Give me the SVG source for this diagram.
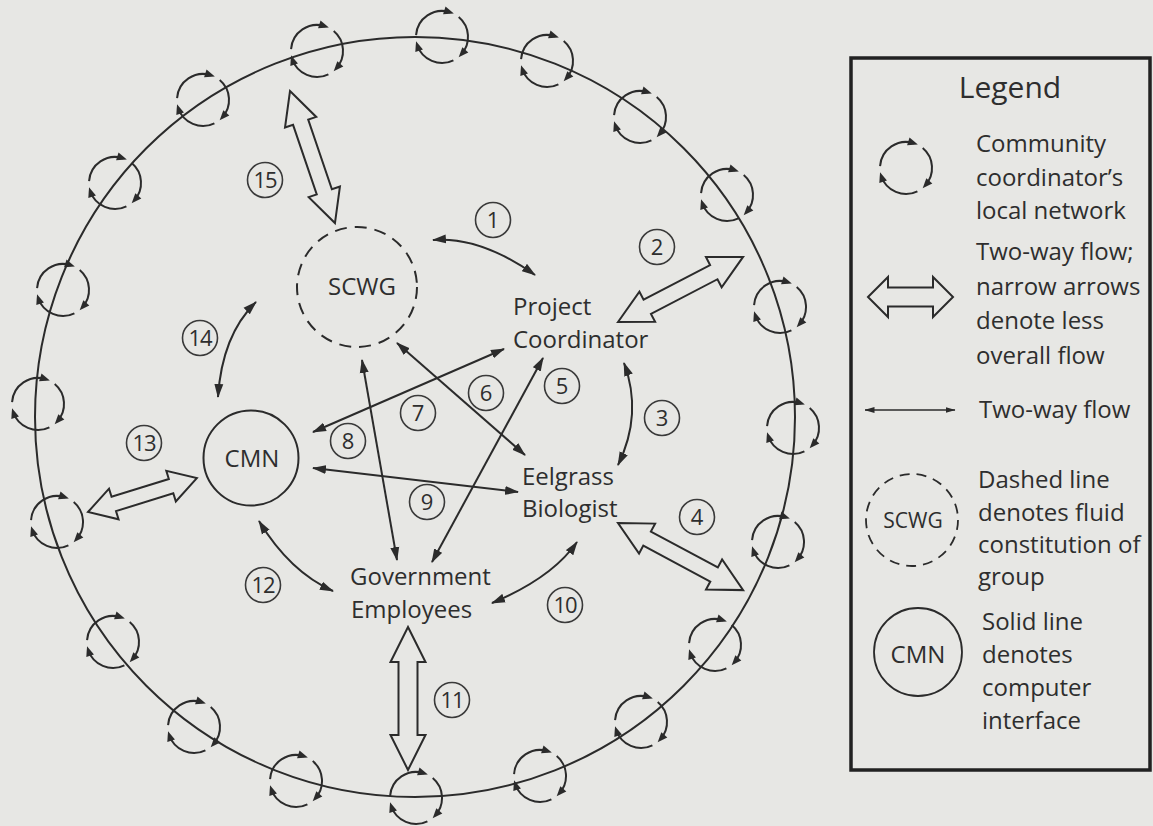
<svg xmlns="http://www.w3.org/2000/svg" width="1153" height="826" viewBox="0 0 1153 826">
<style>
  .ln{fill:none;stroke:#2b2b2b;stroke-width:2}
  .wide{fill:#e7e7e4;stroke:#2b2b2b;stroke-width:2;stroke-linejoin:miter}
  .thin{fill:none;stroke:#2b2b2b;stroke-width:2;marker-start:url(#tip);marker-end:url(#tip)}
  .num{fill:#e7e7e4;stroke:#3a3a3a;stroke-width:1.6}
  .dash{fill:none;stroke:#2b2b2b;stroke-width:2;stroke-dasharray:12 8}
  text{font-family:"Open Sans","Liberation Sans",sans-serif;fill:#2e2e2e}
  .lbl{font-size:24px}
  .n{font-size:22px;text-anchor:middle}
  .c{text-anchor:middle}
</style>
<defs>
  <marker id="tip" viewBox="0 0 14 10" refX="13" refY="5" markerWidth="14" markerHeight="10" markerUnits="userSpaceOnUse" orient="auto-start-reverse">
    <path d="M0,0.5 L14,5 L0,9.5 z" fill="#2b2b2b"/>
  </marker>
  <marker id="tipS" viewBox="0 0 10 7" refX="9.5" refY="3.5" markerWidth="10" markerHeight="7" markerUnits="userSpaceOnUse" orient="auto-start-reverse">
    <path d="M0,0.5 L10,3.5 L0,6.5 z" fill="#2b2b2b"/>
  </marker>
  <!-- local network: three clockwise arcs, each ending in an arrowhead -->
  <g id="netIcon">
    <path d="M-25.94,-1.81 A26,26 0 0 1 8.03,-24.73 M16.71,-19.92 A26,26 0 0 1 19.32,17.40 M11.40,23.37 A26,26 0 0 1 -24.73,8.03" fill="none" stroke="#2b2b2b" stroke-width="2"/>
    <path d="M4,0 L-6,-4 L-6,4 z" transform="translate(8.03,-24.73) rotate(18)" fill="#2b2b2b"/>
    <path d="M4,0 L-6,-4 L-6,4 z" transform="translate(19.32,17.40) rotate(132)" fill="#2b2b2b"/>
    <path d="M4,0 L-6,-4 L-6,4 z" transform="translate(-24.73,8.03) rotate(-108)" fill="#2b2b2b"/>
  </g>
</defs>

<rect width="1153" height="826" fill="#e7e7e4"/>

<!-- community ring -->
<g id="ring">
  <circle class="ln" cx="415" cy="417" r="380"/>
</g>

<!-- local networks on the ring -->
<g id="net01" transform="translate(442,37)"><use href="#netIcon"/></g>
<g id="net02" transform="translate(547,61)"><use href="#netIcon"/></g>
<g id="net03" transform="translate(640,117)"><use href="#netIcon"/></g>
<g id="net04" transform="translate(727,195)"><use href="#netIcon"/></g>
<g id="net05" transform="translate(780,307)"><use href="#netIcon"/></g>
<g id="net06" transform="translate(793,428)"><use href="#netIcon"/></g>
<g id="net07" transform="translate(778,542)"><use href="#netIcon"/></g>
<g id="net08" transform="translate(715,645)"><use href="#netIcon"/></g>
<g id="net09" transform="translate(641,722)"><use href="#netIcon"/></g>
<g id="net10" transform="translate(540,776)"><use href="#netIcon"/></g>
<g id="net11" transform="translate(416,798)"><use href="#netIcon"/></g>
<g id="net12" transform="translate(296,781)"><use href="#netIcon"/></g>
<g id="net13" transform="translate(194,727)"><use href="#netIcon"/></g>
<g id="net14" transform="translate(113,642)"><use href="#netIcon"/></g>
<g id="net15" transform="translate(57,522)"><use href="#netIcon"/></g>
<g id="net16" transform="translate(38,404)"><use href="#netIcon"/></g>
<g id="net17" transform="translate(63,290)"><use href="#netIcon"/></g>
<g id="net18" transform="translate(115,183)"><use href="#netIcon"/></g>
<g id="net19" transform="translate(203,100)"><use href="#netIcon"/></g>
<g id="net20" transform="translate(317,51)"><use href="#netIcon"/></g>

<!-- connectors -->
<g id="connectors">
  <!-- wide two-way flows -->
  <path class="wide" transform="translate(290,91) rotate(71.2)" d="M0,0 L33,-16.5 L33,-8 L106.5,-8 L106.5,-16.5 L139.5,0 L106.5,16.5 L106.5,8 L33,8 L33,16.5 Z"/>
  <path class="wide" transform="translate(618,322) rotate(-27.5)" d="M0,0 L33,-17 L33,-8 L108,-8 L108,-17 L141,0 L108,17 L108,8 L33,8 L33,17 Z"/>
  <path class="wide" transform="translate(618,523) rotate(28.2)" d="M0,0 L33,-17 L33,-8 L109,-8 L109,-17 L142,0 L109,17 L109,8 L33,8 L33,17 Z"/>
  <path class="wide" transform="translate(88,512) rotate(-17.3)" d="M0,0 L27,-16 L27,-7.5 L87,-7.5 L87,-16 L114,0 L87,16 L87,7.5 L27,7.5 L27,16 Z"/>
  <path class="wide" transform="translate(408,627) rotate(90)" d="M0,0 L35,-17.5 L35,-9.5 L108,-9.5 L108,-17.5 L143,0 L108,17.5 L108,9.5 L35,9.5 L35,17.5 Z"/>
  <!-- narrow two-way flows -->
  <path class="thin" d="M433,240 Q480,236 535,275"/>
  <path class="thin" d="M624,363 Q643,414 618,465"/>
  <path class="thin" d="M543,358 L432,562"/>
  <path class="thin" d="M397,343 L525,455"/>
  <path class="thin" d="M313,432 L504,349"/>
  <path class="thin" d="M362,360 L397,560"/>
  <path class="thin" d="M313,468 L518,492"/>
  <path class="thin" d="M492,603 Q552,578 577,542"/>
  <path class="thin" d="M259,521 Q290,572 333,591"/>
  <path class="thin" d="M256,302 Q222,335 218,397"/>
</g>

<!-- flow numbers -->
<g id="flowNumbers">
  <circle class="num" cx="493" cy="220" r="17.5"/><text class="n" x="493" y="228">1</text>
  <circle class="num" cx="657" cy="247" r="17.5"/><text class="n" x="657" y="255">2</text>
  <circle class="num" cx="662" cy="418" r="17.5"/><text class="n" x="662" y="426">3</text>
  <circle class="num" cx="697" cy="517" r="17.5"/><text class="n" x="697" y="525">4</text>
  <circle class="num" cx="562" cy="386" r="17.5"/><text class="n" x="562" y="394">5</text>
  <circle class="num" cx="486" cy="393" r="17.5"/><text class="n" x="486" y="401">6</text>
  <circle class="num" cx="418" cy="413" r="17.5"/><text class="n" x="418" y="421">7</text>
  <circle class="num" cx="348" cy="441" r="17.5"/><text class="n" x="348" y="449">8</text>
  <circle class="num" cx="427" cy="502" r="17.5"/><text class="n" x="427" y="510">9</text>
  <circle class="num" cx="565" cy="605" r="17.5"/><text class="n" x="565" y="613" letter-spacing="-1">10</text>
  <circle class="num" cx="452" cy="700" r="17.5"/><text class="n" x="452" y="708" letter-spacing="-1">11</text>
  <circle class="num" cx="263" cy="585" r="17.5"/><text class="n" x="263" y="593" letter-spacing="-1">12</text>
  <circle class="num" cx="144" cy="443" r="17.5"/><text class="n" x="144" y="451" letter-spacing="-1">13</text>
  <circle class="num" cx="200" cy="338" r="17.5"/><text class="n" x="200" y="346" letter-spacing="-1">14</text>
  <circle class="num" cx="265" cy="180" r="17.5"/><text class="n" x="265" y="188" letter-spacing="-1">15</text>
</g>

<!-- actors -->
<g id="scwg">
  <circle class="dash" cx="357" cy="287" r="60"/>
  <text class="lbl c" x="362" y="295">SCWG</text>
</g>
<g id="cmn">
  <circle class="ln" cx="251" cy="458" r="47.5"/>
  <text class="lbl c" x="252" y="467">CMN</text>
</g>
<g id="projectCoordinator">
  <text class="lbl" x="513" y="315">Project</text>
  <text class="lbl" x="513" y="348">Coordinator</text>
</g>
<g id="eelgrassBiologist">
  <text class="lbl" x="522" y="485">Eelgrass</text>
  <text class="lbl" x="522" y="517">Biologist</text>
</g>
<g id="governmentEmployees">
  <text class="lbl" x="350" y="585">Government</text>
  <text class="lbl" x="351" y="618">Employees</text>
</g>

<!-- legend -->
<g id="legend">
  <rect x="851" y="58" width="299" height="712" fill="none" stroke="#222" stroke-width="3.5"/>
  <text x="1010" y="98" class="c" font-size="30">Legend</text>

  <use href="#netIcon" transform="translate(906,168)"/>
  <text class="lbl" x="976" y="152">Community</text>
  <text class="lbl" x="976" y="186">coordinator’s</text>
  <text class="lbl" x="976" y="219">local network</text>

  <path class="wide" d="M868,297 L888,277 L888,287.5 L933,287.5 L933,277 L953,297 L933,317 L933,306.5 L888,306.5 L888,317 Z"/>
  <text class="lbl" x="976" y="260">Two-way flow;</text>
  <text class="lbl" x="976" y="295">narrow arrows</text>
  <text class="lbl" x="976" y="329">denote less</text>
  <text class="lbl" x="976" y="364">overall flow</text>

  <path d="M865,410 L955,410" fill="none" stroke="#2b2b2b" stroke-width="1.5" marker-start="url(#tipS)" marker-end="url(#tipS)"/>
  <text class="lbl" x="979" y="418">Two-way flow</text>

  <circle cx="912" cy="520" r="46" fill="none" stroke="#2b2b2b" stroke-width="1.8" stroke-dasharray="10 7"/>
  <text x="913" y="528" class="c" font-size="21">SCWG</text>
  <text class="lbl" x="978" y="488">Dashed line</text>
  <text class="lbl" x="978" y="521">denotes fluid</text>
  <text class="lbl" x="978" y="553">constitution of</text>
  <text class="lbl" x="978" y="585">group</text>

  <circle cx="918" cy="652" r="44" fill="none" stroke="#2b2b2b" stroke-width="1.8"/>
  <text x="918" y="663" class="c" font-size="24">CMN</text>
  <text class="lbl" x="982" y="630">Solid line</text>
  <text class="lbl" x="982" y="663">denotes</text>
  <text class="lbl" x="982" y="696">computer</text>
  <text class="lbl" x="982" y="729">interface</text>
</g>
</svg>
